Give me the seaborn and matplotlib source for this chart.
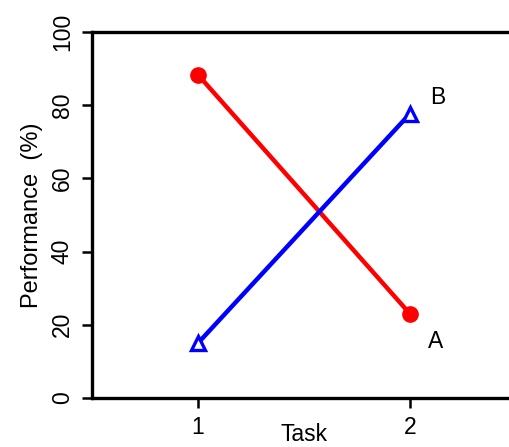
import matplotlib
matplotlib.use("Agg")
import matplotlib.pyplot as plt
import seaborn as sns
import pandas as pd

tasks = [1, 2]
perf_a = [88.3, 23.0]
perf_b = [15.0, 77.7]
series_labels = ["A", "B"]
label_pos_a = (2.12, 15.5)
label_pos_b = (2.13, 82.0)
yticks = [0, 20, 40, 60, 80, 100]
xticks = [1, 2]

sns.set_theme(style="white")
plt.rcParams['font.family'] = ['Liberation Sans', 'DejaVu Sans']
plt.rcParams['text.color'] = 'black'
plt.rcParams['axes.labelcolor'] = 'black'

df_a = pd.DataFrame({"Task": tasks, "Performance": perf_a})
df_b = pd.DataFrame({"Task": tasks, "Performance": perf_b})

fig = plt.figure(figsize=(5.09, 4.47), dpi=100)
W, H = 509, 447
ax = fig.add_axes([92 / W, (H - 398) / H, 424 / W, 366 / H])

sns.lineplot(data=df_a, x="Task", y="Performance", ax=ax, color="#ff0000",
             lw=3.2, marker="o", markersize=11, markeredgecolor="#ff0000",
             markerfacecolor="#ff0000", markeredgewidth=1)
sns.lineplot(data=df_b, x="Task", y="Performance", ax=ax, color="#0000ff",
             lw=3.2, marker="^", markersize=10.5, markeredgecolor="#0000ff",
             markerfacecolor="white", markeredgewidth=2.4)

ax.text(label_pos_a[0], label_pos_a[1], series_labels[0], fontsize=16.5,
        ha="center", va="center", color="black")
ax.text(label_pos_b[0], label_pos_b[1], series_labels[1], fontsize=16.5,
        ha="center", va="center", color="black")

ax.set_xlim(0.5, 2.5)
ax.set_ylim(0, 100)
ax.set_xticks(xticks)
ax.set_xticklabels([str(t) for t in xticks])
ax.set_yticks(yticks)
ax.set_yticklabels([str(t) for t in yticks], rotation=90, va="center")
ax.set_xlabel("Task", fontsize=16.5, labelpad=-11.5, color="black")
ax.set_ylabel("Performance  (%)", fontsize=17, labelpad=6, color="black")

for s in ["left", "bottom", "top"]:
    ax.spines[s].set_visible(True)
    ax.spines[s].set_color("black")
    ax.spines[s].set_linewidth(2.4)
ax.spines["right"].set_visible(False)
ax.tick_params(axis="both", direction="out", length=7, width=1.8, color="black",
               pad=6, left=True, bottom=True, labelcolor="black", labelsize=16.5)

fig.savefig("out.png", dpi=100)
